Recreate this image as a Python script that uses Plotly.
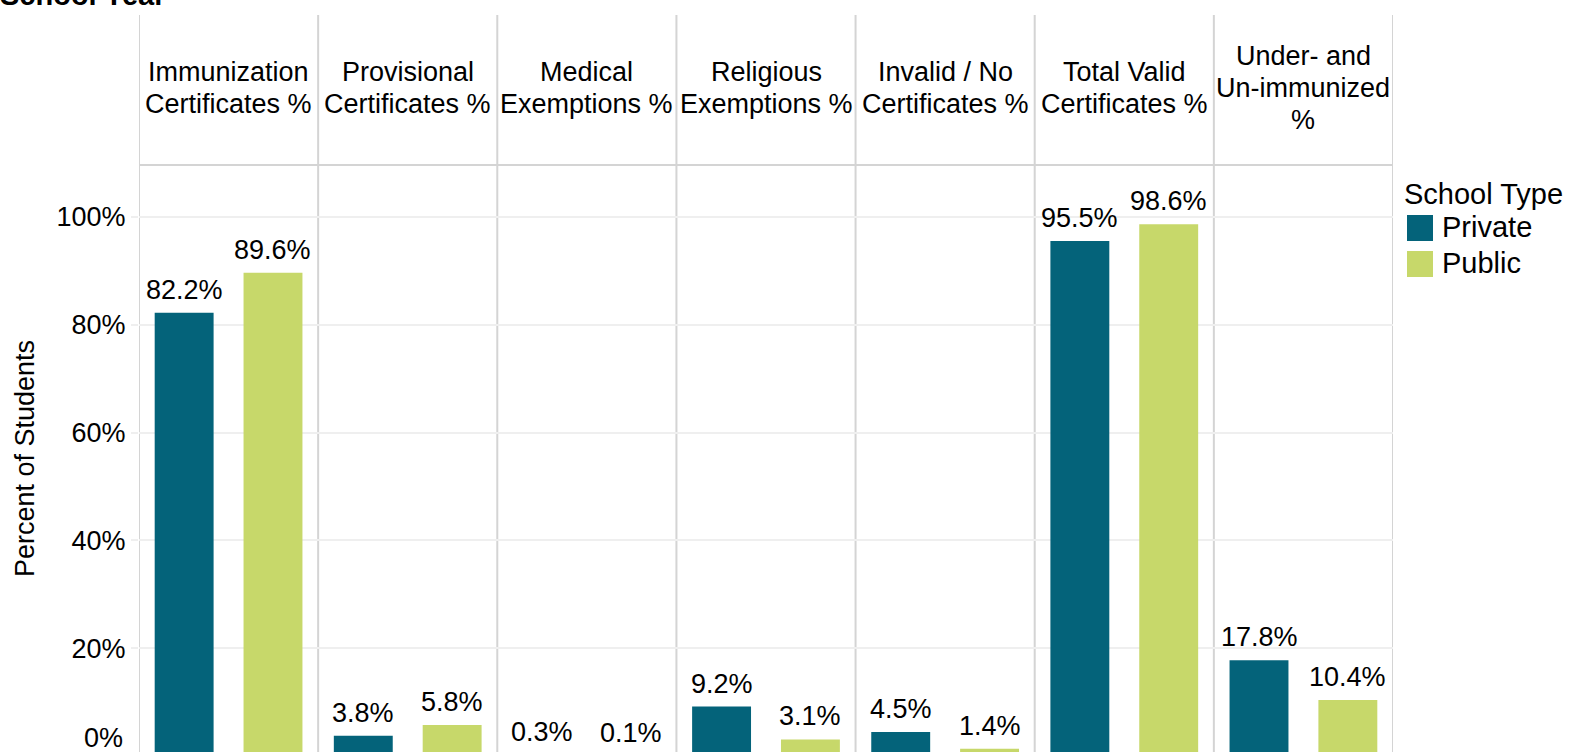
import plotly.graph_objects as go

# ---------------- data ----------------
categories = [
    "Immunization Certificates %",
    "Provisional Certificates %",
    "Medical Exemptions %",
    "Religious Exemptions %",
    "Invalid / No Certificates %",
    "Total Valid Certificates %",
    "Under- and Un-immunized %",
]
header_lines = [
    ["Immunization", "Certificates %"],
    ["Provisional", "Certificates %"],
    ["Medical", "Exemptions %"],
    ["Religious", "Exemptions %"],
    ["Invalid / No", "Certificates %"],
    ["Total Valid", "Certificates %"],
    ["Under- and", "Un-immunized", "%"],
]
private_values = [82.2, 3.8, 0.3, 9.2, 4.5, 95.5, 17.8]
public_values = [89.6, 5.8, 0.1, 3.1, 1.4, 98.6, 10.4]
series_names = ["Private", "Public"]
y_tick_values = [0, 20, 40, 60, 80, 100]
legend_title = "School Type"
y_title = "Percent of Students"
top_title = "School Year"

# ---------------- style ----------------
W, H = 1569, 752
ML = 139
MT = 165
MR = W - 1393
MB = 0
PW, PH = W - ML - MR, H - MT - MB
FONT = "Arial, Liberation Sans, Helvetica, sans-serif"
FS = 27
FS_LEG = 29
C_PRIVATE = "#04637A"
C_PUBLIC = "#C7D86A"
LINE_C = "#D4D4D4"
GRID_C = "#EFEFEF"
PX_PER_PCT = 5.395
ZERO_Y = 756.2  # pixel row of the 0% level (just below the visible area)
Y_RANGE = [(ZERO_Y - (H - MB)) / PX_PER_PCT, (ZERO_Y - MT) / PX_PER_PCT]
HEADER_MID = 88
HEADER_LINE_SP = 32
BARGAP = 0.008
BARGROUPGAP = 0.337
LABEL_YSHIFT = 6


def px_x(px):
    return (px - ML) / PW


def px_y(py):
    return (H - MB - py) / PH


def value_to_paper(v):
    return (v - Y_RANGE[0]) / (Y_RANGE[1] - Y_RANGE[0])


colors = [C_PRIVATE, C_PUBLIC]
series_values = [private_values, public_values]

fig = go.Figure()
for name, vals, col in zip(series_names, series_values, colors):
    fig.add_trace(go.Bar(
        x=categories, y=vals, name=name,
        marker=dict(color=col, line=dict(width=0)),
        cliponaxis=False, showlegend=False,
        hovertemplate="%{x}<br>" + name + ": %{y:.1f}%<extra></extra>",
    ))

shapes = []
for i in range(len(categories) + 1):
    shapes.append(dict(type="line", xref="x", yref="paper",
                       x0=i - 0.5, x1=i - 0.5, y0=0, y1=px_y(15),
                       line=dict(color=LINE_C, width=2), layer="below"))
shapes.append(dict(type="line", xref="x", yref="paper", x0=-0.5, x1=len(categories) - 0.5,
                   y0=1, y1=1, line=dict(color=LINE_C, width=2), layer="below"))
# legend swatches
for col, (top, bot) in zip(colors, [(215, 241), (251, 277)]):
    shapes.append(dict(type="rect", xref="paper", yref="paper",
                       x0=px_x(1407), x1=px_x(1433), y0=px_y(bot), y1=px_y(top),
                       fillcolor=col, line=dict(width=0)))

annotations = []
# value labels above bars, placed at the grouped bar centres
cat_px = PW / len(categories)
group_offsets = [-(1 - BARGAP) / 4 * cat_px, (1 - BARGAP) / 4 * cat_px]
for vals, dx in zip(series_values, group_offsets):
    for cat, v in zip(categories, vals):
        if v >= Y_RANGE[0]:
            yy, yref = v, "y"
        else:  # bar top lies just below the visible pane
            yy, yref = value_to_paper(v), "paper"
        annotations.append(dict(x=cat, y=yy, xref="x", yref=yref, text=f"{v:.1f}%",
                                showarrow=False, xanchor="center", yanchor="bottom",
                                xshift=dx, yshift=LABEL_YSHIFT,
                                font=dict(size=FS, color="#000000", family=FONT)))
for cat, lines in zip(categories, header_lines):
    n = len(lines)
    for k, line in enumerate(lines):
        yc = HEADER_MID + (k - (n - 1) / 2) * HEADER_LINE_SP
        annotations.append(dict(x=cat, xref="x", y=px_y(yc), yref="paper", text=line,
                                showarrow=False, xanchor="center", yanchor="middle",
                                font=dict(size=FS, color="#000000", family=FONT)))
annotations.append(dict(x=px_x(1402), y=px_y(194), xref="paper", yref="paper", text=legend_title,
                        showarrow=False, xanchor="left", yanchor="middle",
                        font=dict(size=FS_LEG, color="#000000", family=FONT)))
for name, yc in zip(series_names, [227, 263]):
    annotations.append(dict(x=px_x(1440), y=px_y(yc), xref="paper", yref="paper", text=name,
                            showarrow=False, xanchor="left", yanchor="middle",
                            font=dict(size=FS_LEG, color="#000000", family=FONT)))
# 0% tick label clamped inside the view (as in the original)
annotations.append(dict(x=px_x(125), y=px_y(738), xref="paper", yref="paper",
                        text=f"{y_tick_values[0]}%", showarrow=False,
                        xanchor="right", yanchor="middle",
                        font=dict(size=FS, color="#000000", family=FONT)))
# title, only its lower edge is inside the view
annotations.append(dict(x=px_x(-2), y=px_y(13), xref="paper", yref="paper",
                        text=f"<b>{top_title}</b>", showarrow=False,
                        xanchor="left", yanchor="bottom",
                        font=dict(size=29, color="#000000", family=FONT)))

axis_ticks = [v for v in y_tick_values if v > 0]

fig.update_layout(
    width=W, height=H,
    margin=dict(l=ML, r=MR, t=MT, b=MB, pad=0),
    paper_bgcolor="white", plot_bgcolor="white",
    barmode="group", bargap=BARGAP, bargroupgap=BARGROUPGAP,
    font=dict(family=FONT, size=FS, color="#000000"),
    showlegend=False,
    shapes=shapes, annotations=annotations,
    xaxis=dict(type="category", range=[-0.5, len(categories) - 0.5], showticklabels=False,
               showgrid=False, zeroline=False, showline=False, ticks=""),
    yaxis=dict(range=Y_RANGE, tickmode="array", tickvals=axis_ticks,
               ticktext=[f"{v}%" for v in axis_ticks],
               showgrid=True, gridcolor=GRID_C, gridwidth=2,
               ticks="outside", ticklen=7, tickcolor=GRID_C, tickwidth=2,
               zeroline=False, showline=False,
               tickfont=dict(size=FS, color="#000000", family=FONT),
               title=dict(text=y_title, font=dict(size=FS, color="#000000", family=FONT), standoff=14)),
)

fig.write_html(
    "out.html",
    config={"displayModeBar": False},
    post_script="document.body.style.margin='0';document.body.style.overflow='hidden';",
)
